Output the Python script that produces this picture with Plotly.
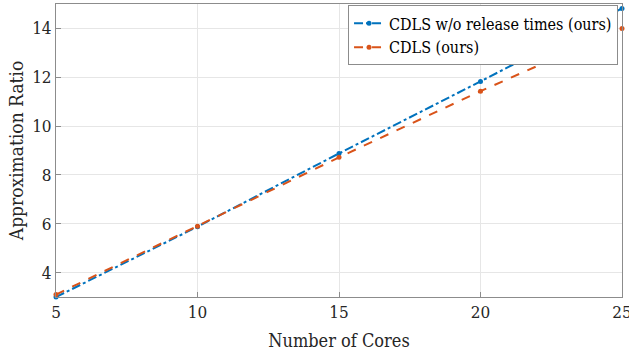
import plotly.graph_objects as go

cores = [5, 10, 15, 20, 25]
ratio_no_release = [3.0, 5.88, 8.88, 11.83, 14.82]
ratio_cdls = [3.1, 5.9, 8.72, 11.43, 14.0]

x_ticks = [5, 10, 15, 20, 25]
y_ticks = [4, 6, 8, 10, 12, 14]

BLUE = "#0072BD"
ORANGE = "#D95319"
FONT = "DejaVu Serif Condensed"

fig = go.Figure()
fig.add_trace(go.Scatter(
    x=cores, y=ratio_no_release, mode="lines+markers",
    name="CDLS w/o release times (ours)",
    line=dict(color=BLUE, width=2, dash="dashdot"),
    marker=dict(color=BLUE, size=5, symbol="circle"),
    cliponaxis=False,
))
fig.add_trace(go.Scatter(
    x=cores, y=ratio_cdls, mode="lines+markers",
    name="CDLS (ours)",
    line=dict(color=ORANGE, width=2, dash="dash"),
    marker=dict(color=ORANGE, size=5, symbol="circle"),
    cliponaxis=False,
))

axis_common = dict(
    showgrid=True, gridcolor="#e6e6e6", gridwidth=1,
    showline=True, linecolor="#8c8c8c", linewidth=1, mirror=True,
    ticks="inside", tickcolor="#8c8c8c", ticklen=5,
    zeroline=False, automargin=False,
    ticklabeloverflow="allow",
    tickfont=dict(family=FONT, size=17, color="#262626"),
)

fig.update_layout(
    width=629, height=356,
    margin=dict(l=56, r=7, t=4, b=59),
    paper_bgcolor="white", plot_bgcolor="white",
    font=dict(family=FONT, color="#262626"),
    xaxis=dict(range=[5, 25], tickvals=x_ticks,
               title=dict(text="Number of Cores", font=dict(family=FONT, size=18), standoff=12),
               **axis_common),
    yaxis=dict(range=[3, 15], tickvals=y_ticks,
               title=dict(text="Approximation Ratio", font=dict(family=FONT, size=19), standoff=3),
               **axis_common),
    legend=dict(
        x=0.993, y=0.995, xanchor="right", yanchor="top",
        bgcolor="white", bordercolor="#8c8c8c", borderwidth=1,
        font=dict(family=FONT, size=16, color="#000000"),
        tracegroupgap=0, itemwidth=30,
    ),
    showlegend=True,
)

fig.write_html("out.html")
